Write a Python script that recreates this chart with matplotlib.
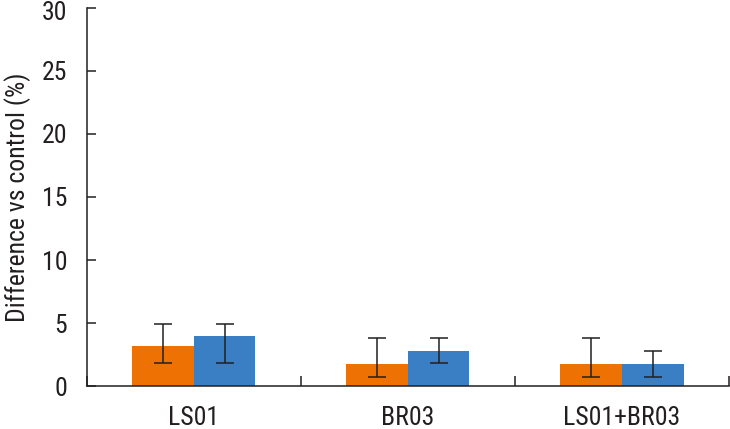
import matplotlib
matplotlib.use("Agg")
import matplotlib.pyplot as plt
from matplotlib import font_manager as fm
from matplotlib.transforms import ScaledTranslation
import numpy as np

categories = ["LS01", "BR03", "LS01+BR03"]
orange_vals = [3.16, 1.74, 1.74]
orange_err_low = [1.87, 0.76, 0.76]
orange_err_high = [4.93, 3.84, 3.84]
blue_vals = [3.95, 2.81, 1.74]
blue_err_low = [1.87, 1.84, 0.76]
blue_err_high = [4.93, 3.84, 2.79]
yticks = [0, 5, 10, 15, 20, 25, 30]

# pick a narrow font if one exists
fam, stretch = 'DejaVu Sans', 'normal'
names = {f.name for f in fm.fontManager.ttflist}
for cand in ['Liberation Sans Narrow', 'Roboto Condensed', 'Open Sans Condensed',
             'Noto Sans Condensed', 'Arial Narrow']:
    if cand in names:
        fam = cand
        break
else:
    for f in fm.fontManager.ttflist:
        st = str(f.stretch).lower()
        if 'condensed' in st and 'extra' not in st and 'ultra' not in st and f.style == 'normal':
            fam, stretch = f.name, f.stretch
            break
plt.rcParams['font.family'] = [fam, 'DejaVu Sans']
plt.rcParams['font.stretch'] = stretch
dark = '#231f20'
fs = 18.5

fig = plt.figure(figsize=(7.30, 4.29), dpi=100)
ax = fig.add_axes([86.7/730, 1-386.3/429, (729-86.7)/730, (386.3-7.5)/429])

x = np.arange(len(categories))
w = 0.2875
ov = np.array(orange_vals); bv = np.array(blue_vals)
oerr = [ov - np.array(orange_err_low), np.array(orange_err_high) - ov]
berr = [bv - np.array(blue_err_low), np.array(blue_err_high) - bv]
ekw = dict(ecolor=dark, elinewidth=1.1, capsize=6.8, capthick=1.1)
ax.bar(x - w/2, ov, w, color='#EE7203', yerr=oerr, error_kw=ekw, zorder=2)
ax.bar(x + w/2, bv, w, color='#3A7FC4', yerr=berr, error_kw=ekw, zorder=2)

ax.set_xlim(-0.5, len(categories) - 0.5)
ax.set_ylim(0, 30)
ax.set_yticks(yticks)
ax.set_xticks(x)
ax.set_xticklabels(categories)
ax.set_xticks(np.arange(len(categories) + 1) - 0.5, minor=True)

for s in ['top', 'right']:
    ax.spines[s].set_visible(False)
for s in ['left', 'bottom']:
    ax.spines[s].set_color(dark)
    ax.spines[s].set_linewidth(1.1)

ax.tick_params(axis='y', direction='in', length=6.5, width=1.1, color=dark,
               labelsize=fs, pad=14, labelcolor=dark)
ax.tick_params(axis='x', which='major', length=0, labelsize=fs, pad=14, labelcolor=dark)
ax.tick_params(axis='x', which='minor', direction='in', length=7, width=1.1, color=dark)

# nudge the top tick label down slightly so it stays inside the canvas
top_lbl = ax.get_yticklabels()[-1]
top_lbl.set_transform(top_lbl.get_transform() + ScaledTranslation(0, -3/100, fig.dpi_scale_trans))

ax.set_ylabel("Difference vs control (%)", fontsize=fs, color=dark, labelpad=8)

fig.savefig("out.png", dpi=100)
